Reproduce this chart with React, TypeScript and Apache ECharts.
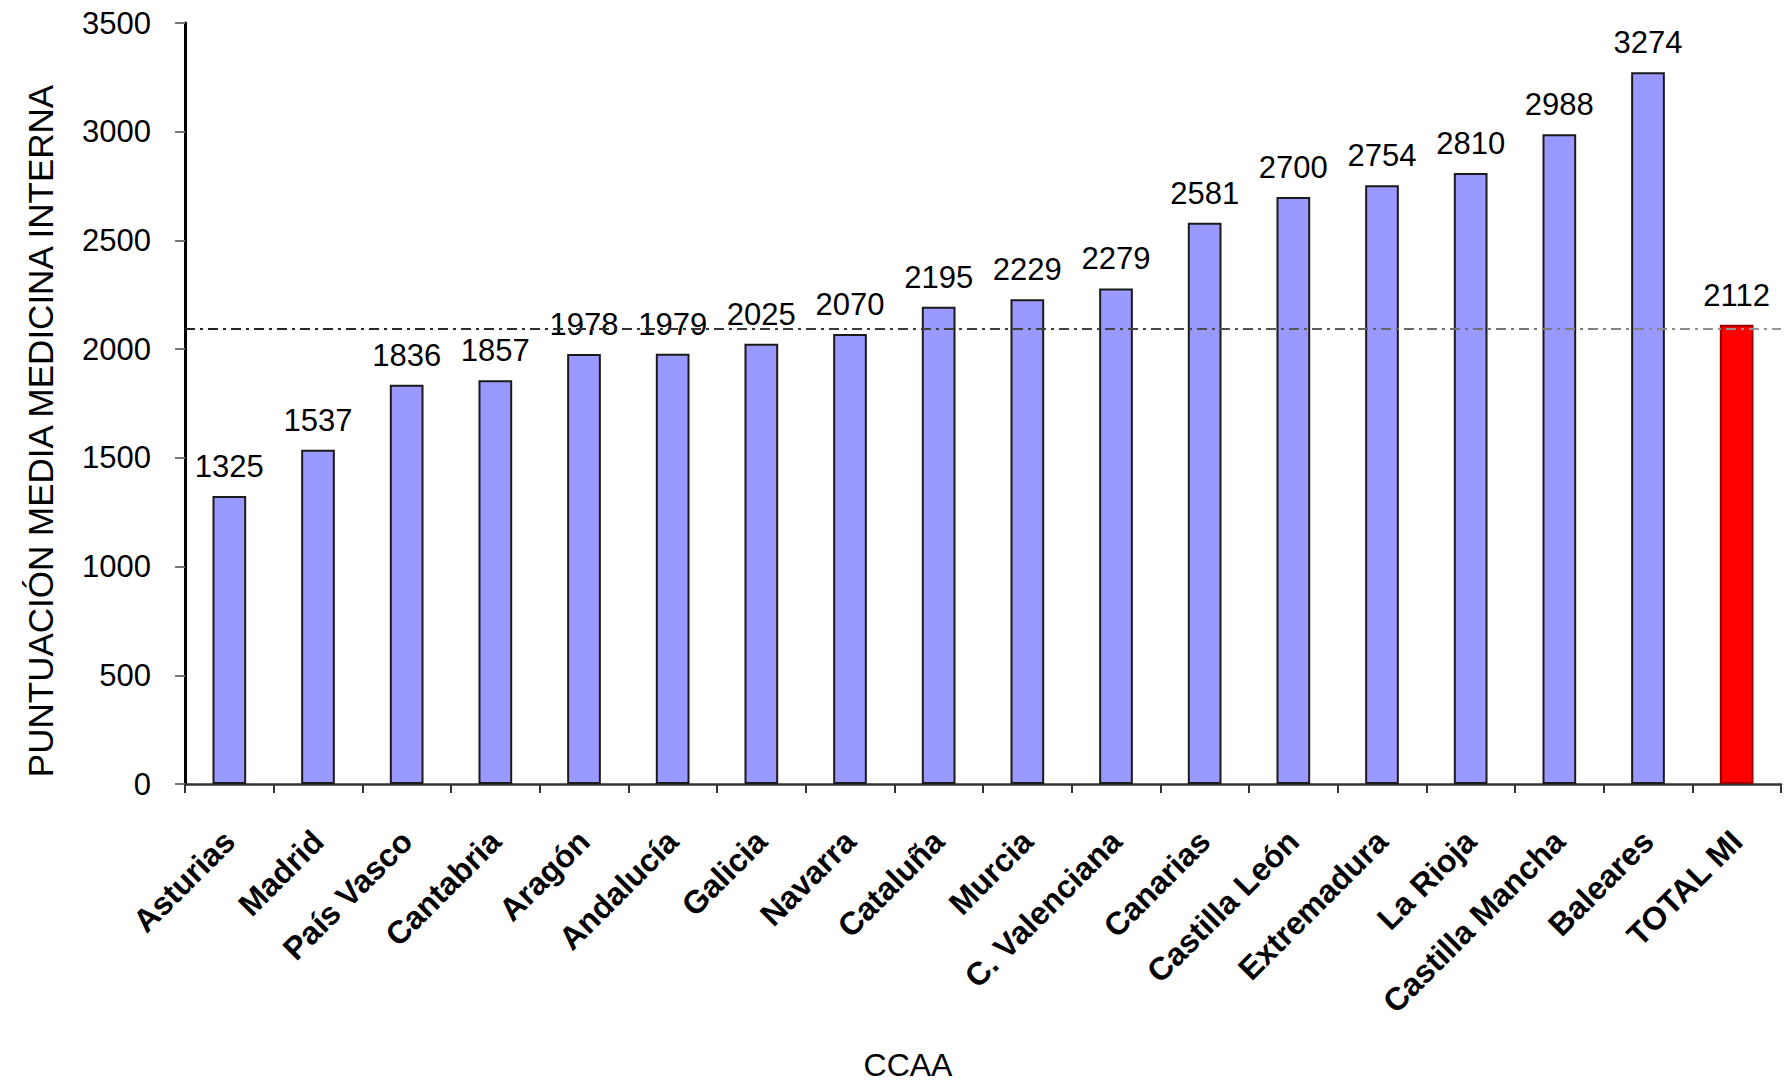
import React, { useEffect, useRef } from "react";
import * as echarts from "echarts";

const categories = [
  "Asturias", "Madrid", "País Vasco", "Cantabria", "Aragón", "Andalucía",
  "Galicia", "Navarra", "Cataluña", "Murcia", "C. Valenciana", "Canarias",
  "Castilla León", "Extremadura", "La Rioja", "Castilla Mancha", "Baleares", "TOTAL MI",
];
const values = [1325, 1537, 1836, 1857, 1978, 1979, 2025, 2070, 2195, 2229, 2279, 2581, 2700, 2754, 2810, 2988, 3274, 2112];
const totalCategory = "TOTAL MI";
const referenceLine = 2095;
const yTicks = { min: 0, max: 3500, interval: 500 };
const yAxisTitle = "PUNTUACIÓN MEDIA MEDICINA INTERNA";
const xAxisTitle = "CCAA";

const FONT = "'Liberation Sans', Arial, Helvetica, sans-serif";

export default function App() {
  const ref = useRef<HTMLDivElement>(null);
  useEffect(() => {
    if (!ref.current) return;
    const chart = echarts.init(ref.current, null, { renderer: "svg" });
    const data = values.map((v, i) => {
      const isTotal = categories[i] === totalCategory;
      return {
        value: v,
        itemStyle: isTotal
          ? { color: "#ff0000", borderColor: "#990000", borderWidth: 2 }
          : { color: "#9999ff", borderColor: "#1a1a1a", borderWidth: 2 },
      };
    });
    chart.setOption({
      animation: false,
      backgroundColor: "#ffffff",
      grid: { left: 185, right: 4, top: 23, bottom: 298, containLabel: false },
      xAxis: {
        type: "category",
        data: categories,
        boundaryGap: true,
        axisLine: { show: true, lineStyle: { color: "#333", width: 2.5 } },
        axisTick: { show: true, alignWithLabel: false, length: 9, lineStyle: { color: "#333", width: 2 } },
        axisLabel: {
          interval: 0,
          rotate: 45,
          margin: 52,
          color: "#000",
          fontFamily: FONT,
          fontWeight: "bold",
          fontSize: 32,
        },
      },
      yAxis: {
        type: "value",
        min: yTicks.min,
        max: yTicks.max,
        interval: yTicks.interval,
        splitLine: { show: false },
        axisLine: { show: true, lineStyle: { color: "#000", width: 3 } },
        axisTick: { show: true, length: 10, lineStyle: { color: "#777", width: 2 } },
        axisLabel: {
          margin: 34,
          color: "#000",
          fontFamily: FONT,
          fontSize: 31,
          formatter: (v: number) => String(v),
        },
      },
      series: [
        {
          type: "bar",
          data,
          barWidth: "38%",
          label: {
            show: true,
            position: "top",
            distance: 14,
            color: "#000",
            fontFamily: FONT,
            fontSize: 31,
          },
          markLine: {
            silent: true,
            symbol: "none",
            label: { show: false },
            lineStyle: {
              type: [10, 5, 3, 5],
              width: 2,
              color: {
                type: "linear", x: 185, y: 0, x2: 1781, y2: 0, global: true,
                colorStops: [
                  { offset: 0, color: "#222" },
                  { offset: 0.6, color: "#444" },
                  { offset: 1, color: "#999" },
                ],
              },
            },
            data: [{ yAxis: referenceLine }],
          },
          z: 2,
        },
      ],
      graphic: [
        {
          type: "text",
          x: 40,
          y: 431,
          rotation: Math.PI / 2,
          style: {
            text: yAxisTitle,
            fontFamily: FONT,
            fontSize: 35,
            fill: "#000",
            align: "center",
            verticalAlign: "middle",
          },
        },
        {
          type: "text",
          x: 908,
          y: 1065,
          style: {
            text: xAxisTitle,
            fontFamily: FONT,
            fontSize: 32,
            fill: "#000",
            align: "center",
            verticalAlign: "middle",
          },
        },
      ],
    });
    return () => chart.dispose();
  }, []);
  return (
    <div
      ref={ref}
      style={{ position: "fixed", left: 0, top: 0, width: "1785px", height: "1082px", background: "#fff" }}
    />
  );
}
